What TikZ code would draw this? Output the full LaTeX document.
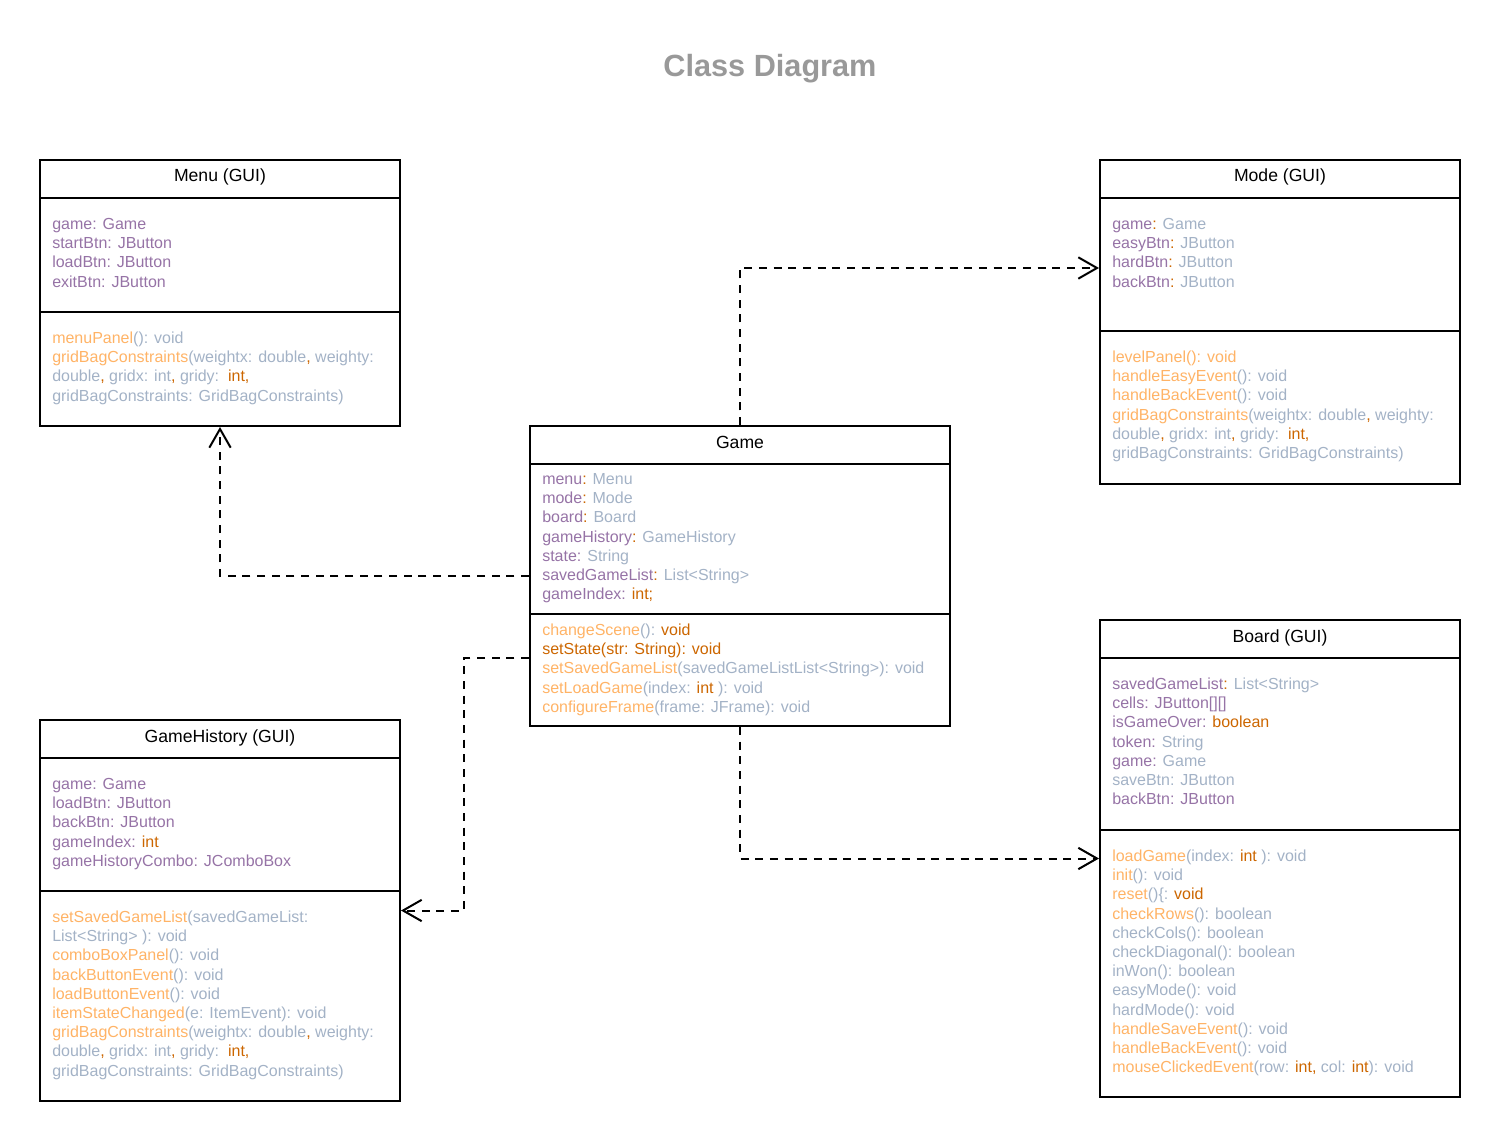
\documentclass[tikz,border=0pt]{standalone}
\usepackage{fontspec}
\setmainfont{Liberation Sans}
\usetikzlibrary{arrows.meta}

\definecolor{attrpurple}{HTML}{9673A6}
\definecolor{typegray}{HTML}{A3B2C6}
\definecolor{methorange}{HTML}{FFB366}
\definecolor{keyorange}{HTML}{CC6600}
\definecolor{titlegray}{HTML}{999999}

\newcommand{\cpu}[1]{\textcolor{attrpurple}{#1}}
\newcommand{\cgb}[1]{\textcolor{typegray}{#1}}
\newcommand{\clo}[1]{\textcolor{methorange}{#1}}
\newcommand{\cdo}[1]{\textcolor{keyorange}{#1}}

\begin{document}
\begin{tikzpicture}[x=0.75pt,y=-0.75pt,
  classbox/.style={draw,line width=1.5pt,inner sep=0pt,minimum width=270pt},
  sep/.style={line width=1.5pt},
  member/.style={anchor=base west,inner sep=0pt,font=\fontsize{12}{14.4}\selectfont},
  header/.style={anchor=base,inner sep=0pt,font=\fontsize{13.2}{15.8}\selectfont},
  dep/.style={line width=1.5pt,dash pattern=on 6pt off 5pt,-{Straight Barb[length=14pt,width=16pt]}}]

\useasboundingbox (0,0) rectangle (1500,1141);

% Title
\node[anchor=base,inner sep=0pt,text=titlegray,font=\bfseries\fontsize{23}{27}\selectfont] (title) at (770,77) {Class Diagram};

% Menu (GUI)
\node[classbox,minimum height=199.5pt] (menu) at (220,293) {};
\draw[sep] (menu.west |- 0,198) -- (menu.east |- 0,198);
\draw[sep] (menu.west |- 0,312) -- (menu.east |- 0,312);
\node[header] (menuH) at (220,182) {Menu (GUI)};
\foreach \row [count=\i] in {{\cpu{game: Game}},{\cpu{startBtn: JButton}},{\cpu{loadBtn: JButton}},{\cpu{exitBtn: JButton}}}
  \node[member] (menuA\i) at (52,229.5+19.2*\i-19.2) {\row};
\foreach \row [count=\i] in {{\clo{menuPanel}\cgb{(): void}},
  {\clo{gridBagConstraints}\cgb{(weightx: double}\cdo{,} \cgb{weighty:}},
  {\cgb{double}\cdo{,} \cgb{gridx: int}\cdo{,} \cgb{gridy:}\ \ \cdo{int,}},
  {\cgb{gridBagConstraints: GridBagConstraints)}}}
  \node[member] (menuM\i) at (52,343.5+19.2*\i-19.2) {\row};

% Mode (GUI)
\node[classbox,minimum height=243pt] (mode) at (1280,322) {};
\draw[sep] (mode.west |- 0,198) -- (mode.east |- 0,198);
\draw[sep] (mode.west |- 0,331) -- (mode.east |- 0,331);
\node[header] (modeH) at (1280,182) {Mode (GUI)};
\foreach \row [count=\i] in {{\cpu{game}\cdo{:} \cgb{Game}},{\cpu{easyBtn}\cdo{:} \cgb{JButton}},
  {\cpu{hardBtn}\cdo{:} \cgb{JButton}},{\cpu{backBtn}\cdo{:} \cgb{JButton}}}
  \node[member] (modeA\i) at (1112,229.5+19.2*\i-19.2) {\row};
\foreach \row [count=\i] in {{\clo{levelPanel(): void}},
  {\clo{handleEasyEvent}\cgb{(): void}},
  {\clo{handleBackEvent}\cgb{(): void}},
  {\clo{gridBagConstraints}\cgb{(weightx: double}\cdo{,} \cgb{weighty:}},
  {\cgb{double}\cdo{,} \cgb{gridx: int}\cdo{,} \cgb{gridy:}\ \ \cdo{int,}},
  {\cgb{gridBagConstraints: GridBagConstraints)}}}
  \node[member] (modeM\i) at (1112,362.5+19.2*\i-19.2) {\row};

% Game
\node[classbox,minimum width=315pt,minimum height=225pt] (game) at (740,576) {};
\draw[sep] (game.west |- 0,464) -- (game.east |- 0,464);
\draw[sep] (game.west |- 0,614) -- (game.east |- 0,614);
\node[header] (gameH) at (740,448) {Game};
\foreach \row [count=\i] in {{\cpu{menu}\cdo{:} \cgb{Menu}},{\cpu{mode}\cdo{:} \cgb{Mode}},
  {\cpu{board}\cdo{:} \cgb{Board}},{\cpu{gameHistory}\cdo{:} \cgb{GameHistory}},
  {\cpu{state:} \cgb{String}},{\cpu{savedGameList}\cdo{:} \cgb{List<String>}},
  {\cpu{gameIndex:} \cdo{int;}}}
  \node[member] (gameA\i) at (542,484.5+19.2*\i-19.2) {\row};
\foreach \row [count=\i] in {{\clo{changeScene}\cgb{():} \cdo{void}},
  {\cdo{setState(str: String): void}},
  {\clo{setSavedGameList}\cgb{(savedGameListList<String>): void}},
  {\clo{setLoadGame}\cgb{(index:} \cdo{int} \cgb{): void}},
  {\clo{configureFrame}\cgb{(frame: JFrame): void}}}
  \node[member] (gameM\i) at (542,635.5+19.2*\i-19.2) {\row};

% Board (GUI)
\node[classbox,minimum height=357.75pt] (board) at (1280,858.5) {};
\draw[sep] (board.west |- 0,658) -- (board.east |- 0,658);
\draw[sep] (board.west |- 0,830) -- (board.east |- 0,830);
\node[header] (boardH) at (1280,642) {Board (GUI)};
\foreach \row [count=\i] in {{\cpu{savedGameList}\cdo{:} \cgb{List<String>}},
  {\cpu{cells: JButton[][]}},{\cpu{isGameOver:} \cdo{boolean}},
  {\cpu{token:} \cgb{String}},{\cpu{game:} \cgb{Game}},
  {\cgb{saveBtn: JButton}},{\cpu{backBtn: JButton}}}
  \node[member] (boardA\i) at (1112,689.5+19.2*\i-19.2) {\row};
\foreach \row [count=\i] in {{\clo{loadGame}\cgb{(index:} \cdo{int} \cgb{): void}},
  {\clo{init}\cgb{(): void}},
  {\clo{reset}\cgb{()\{:} \cdo{void}},
  {\clo{checkRows}\cgb{(): boolean}},
  {\cgb{checkCols(): boolean}},
  {\cgb{checkDiagonal(): boolean}},
  {\cgb{inWon(): boolean}},
  {\cgb{easyMode(): void}},
  {\cgb{hardMode(): void}},
  {\clo{handleSaveEvent}\cgb{(): void}},
  {\clo{handleBackEvent}\cgb{(): void}},
  {\clo{mouseClickedEvent}\cgb{(row:} \cdo{int,} \cgb{col:} \cdo{int}\cgb{): void}}}
  \node[member] (boardM\i) at (1112,861.5+19.2*\i-19.2) {\row};

% GameHistory (GUI)
\node[classbox,minimum height=285.75pt] (hist) at (220,910.5) {};
\draw[sep] (hist.west |- 0,758) -- (hist.east |- 0,758);
\draw[sep] (hist.west |- 0,891) -- (hist.east |- 0,891);
\node[header] (histH) at (220,742) {GameHistory (GUI)};
\foreach \row [count=\i] in {{\cpu{game: Game}},{\cpu{loadBtn: JButton}},{\cpu{backBtn: JButton}},
  {\cpu{gameIndex:} \cdo{int}},{\cpu{gameHistoryCombo: JComboBox}}}
  \node[member] (histA\i) at (52,789.5+19.2*\i-19.2) {\row};
\foreach \row [count=\i] in {{\clo{setSavedGameList}\cgb{(savedGameList:}},
  {\cgb{List<String> ): void}},
  {\clo{comboBoxPanel}\cgb{(): void}},
  {\clo{backButtonEvent}\cgb{(): void}},
  {\clo{loadButtonEvent}\cgb{(): void}},
  {\clo{itemStateChanged}\cgb{(e: ItemEvent): void}},
  {\clo{gridBagConstraints}\cgb{(weightx: double}\cdo{,} \cgb{weighty:}},
  {\cgb{double}\cdo{,} \cgb{gridx: int}\cdo{,} \cgb{gridy:}\ \ \cdo{int,}},
  {\cgb{gridBagConstraints: GridBagConstraints)}}}
  \node[member] (histM\i) at (52,922.5+19.2*\i-19.2) {\row};

% Dependencies
\draw[dep] (game.north) |- ([yshift=40.5pt]mode.west);
\draw[dep] (game.west) -| (menu.south);
\draw[dep] ([yshift=-61.5pt]game.west) -- ++(-65,0) |- (hist.east);
\draw[dep] (game.south) |- (board.west);
\end{tikzpicture}
\end{document}
